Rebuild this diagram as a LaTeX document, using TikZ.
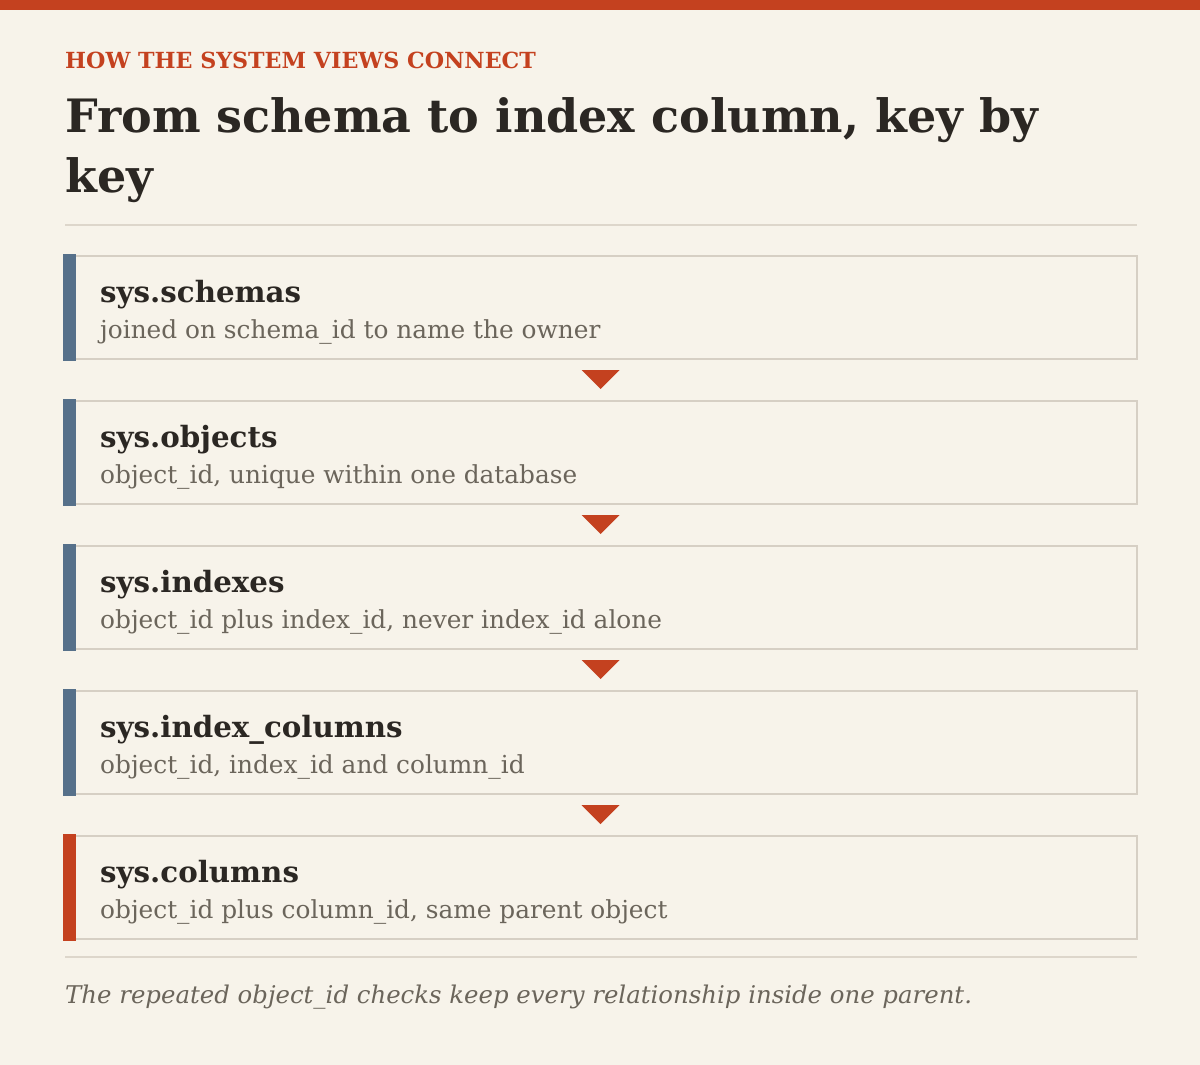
\documentclass[tikz,border=0pt]{standalone}
\usepackage{fontspec}
\setmainfont{DejaVu Serif}
\usepackage{xcolor}
\usepackage{tikz}
\usetikzlibrary{calc}
\definecolor{paper}{HTML}{F7F3EA}
\definecolor{rust}{HTML}{C4411F}
\definecolor{slate}{HTML}{56708A}
\definecolor{ink}{HTML}{2B2723}
\definecolor{muted}{HTML}{6B655B}
\definecolor{boxline}{HTML}{D6CFC4}
\definecolor{rule}{HTML}{DDD6CB}
\newcommand{\us}{\_}

\tikzset{
  viewbox/.style={draw=boxline, line width=2pt, minimum width=1072pt, minimum height=103pt, inner sep=0pt},
  viewname/.style={anchor=base west, inner sep=0pt, text=ink, font=\fontsize{29.3}{32}\selectfont\bfseries},
  viewkey/.style={anchor=base west, inner sep=0pt, text=muted, font=\fontsize{24.8}{28}\selectfont},
}

\begin{document}
\begin{tikzpicture}[x=1pt, y=-1pt]
        \fill[paper] (0,0) rectangle (1200,1065);
        \useasboundingbox (0,0) rectangle (1200,1065);
        \fill[rust] (0,0) rectangle (1200,10);

        % heading
        \node[anchor=base west, inner sep=0pt, text=rust, font=\fontsize{22.2}{24}\selectfont\bfseries] (kicker) at (65,69) {HOW THE SYSTEM VIEWS CONNECT};
        \node[anchor=base west, inner sep=0pt, text=ink, font=\fontsize{46}{60}\selectfont\bfseries] (headline) at (65,132) {From schema to index column, key by};
        \node[anchor=base west, inner sep=0pt, text=ink, font=\fontsize{46}{60}\selectfont\bfseries] (headwrap) at (65,192) {key};
        \draw[rule, line width=2pt] (65,225) -- (1137,225);

        \node[viewbox] (schemas) at (600.5,307.5) {};
        \node[viewbox] (objects) at (600.5,452.5) {};
        \node[viewbox] (indexes) at (600.5,597.5) {};
        \node[viewbox] (idxcols) at (600.5,742.5) {};
        \node[viewbox] (columns) at (600.5,887.5) {};

        % accent bars
        \fill[slate] ($(schemas.north west)+(-1,-1)$) rectangle ($(schemas.south west)+(12,1)$);
        \fill[slate] ($(objects.north west)+(-1,-1)$) rectangle ($(objects.south west)+(12,1)$);
        \fill[slate] ($(indexes.north west)+(-1,-1)$) rectangle ($(indexes.south west)+(12,1)$);
        \fill[slate] ($(idxcols.north west)+(-1,-1)$) rectangle ($(idxcols.south west)+(12,1)$);
        \fill[rust] ($(columns.north west)+(-1,-1)$) rectangle ($(columns.south west)+(12,1)$);

        \node[viewname] at ($(schemas.west)+(36.5,-5.5)$) {sys.schemas};
        \node[viewkey] at ($(schemas.west)+(36.5,30.5)$) {joined on schema\us id to name the owner};
        \node[viewname] at ($(objects.west)+(36.5,-5.5)$) {sys.objects};
        \node[viewkey] at ($(objects.west)+(36.5,30.5)$) {object\us id, unique within one database};
        \node[viewname] at ($(indexes.west)+(36.5,-5.5)$) {sys.indexes};
        \node[viewkey] at ($(indexes.west)+(36.5,30.5)$) {object\us id plus index\us id, never index\us id alone};
        \node[viewname] at ($(idxcols.west)+(36.5,-5.5)$) {sys.index\us columns};
        \node[viewkey] at ($(idxcols.west)+(36.5,30.5)$) {object\us id, index\us id and column\us id};
        \node[viewname] at ($(columns.west)+(36.5,-5.5)$) {sys.columns};
        \node[viewkey] at ($(columns.west)+(36.5,30.5)$) {object\us id plus column\us id, same parent object};

        % join markers between the boxes
        \coordinate (j1) at ($(schemas.south)!0.5!(objects.north)$);
        \coordinate (j2) at ($(objects.south)!0.5!(indexes.north)$);
        \coordinate (j3) at ($(indexes.south)!0.5!(idxcols.north)$);
        \coordinate (j4) at ($(idxcols.south)!0.5!(columns.north)$);
        \fill[rust] ($(j1)+(-19,-10)$) -- ($(j1)+(19,-10)$) -- ($(j1)+(0,9)$) -- cycle;
        \fill[rust] ($(j2)+(-19,-10)$) -- ($(j2)+(19,-10)$) -- ($(j2)+(0,9)$) -- cycle;
        \fill[rust] ($(j3)+(-19,-10)$) -- ($(j3)+(19,-10)$) -- ($(j3)+(0,9)$) -- cycle;
        \fill[rust] ($(j4)+(-19,-10)$) -- ($(j4)+(19,-10)$) -- ($(j4)+(0,9)$) -- cycle;

        % footnote
        \draw[rule, line width=2pt] (65,957) -- (1137,957);
        \node[anchor=base west, inner sep=0pt, text=muted, font=\fontsize{24.4}{28}\selectfont\itshape] (note) at (65,1003) {The repeated object\us id checks keep every relationship inside one parent.};
\end{tikzpicture}
\end{document}
